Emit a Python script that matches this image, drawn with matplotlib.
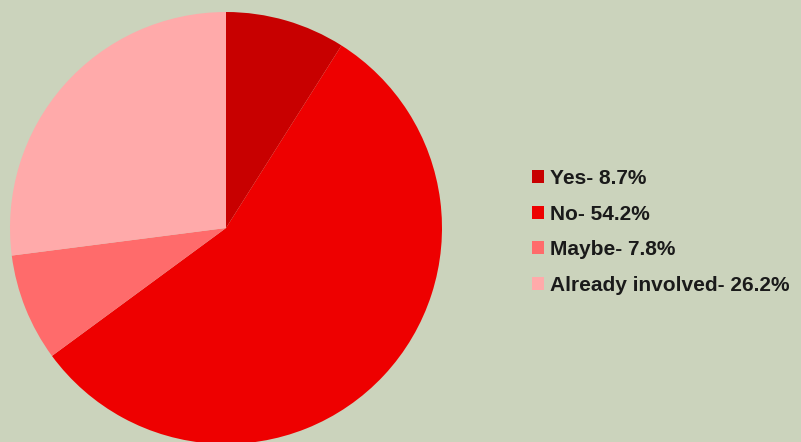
import matplotlib.pyplot as plt
from matplotlib.patches import Patch

# Survey answers
labels = ['Yes', 'No', 'Maybe', 'Already involved']
values = [8.7, 54.2, 7.8, 26.2]
colors = ['#C80000', '#EE0000', '#FF6B6B', '#FFAAAA']
bg = '#CBD3BC'

W, H = 801, 442
fig = plt.figure(figsize=(W / 100, H / 100), dpi=100, facecolor=bg)

# pie axes: centre ~ (226, 228) px from top-left, radius ~ 216 px
cx, cy, r = 226, 228, 216
ax = fig.add_axes([(cx - r) / W, (H - cy - r) / H, 2 * r / W, 2 * r / H])
ax.set_facecolor(bg)
ax.pie(values, colors=colors, startangle=90, counterclock=False,
       radius=1.0, wedgeprops=dict(linewidth=0))
ax.set_xlim(-1, 1)
ax.set_ylim(-1, 1)
ax.set_aspect('equal')
ax.axis('off')

handles = [Patch(facecolor=c, edgecolor='none') for c in colors]
leg_labels = ['%s- %.1f%%' % (l, v) for l, v in zip(labels, values)]
fs = 15
fig.legend(handles, leg_labels, loc='upper left',
           bbox_to_anchor=(532 / W, 1 - 169 / H), frameon=False,
           prop=dict(family='Liberation Sans', size=fs, weight='bold'),
           labelcolor='#1a1a1a',
           handlelength=0.58, handleheight=0.58, handletextpad=0.28,
           labelspacing=0.8, borderaxespad=0, borderpad=0)

fig.savefig('out.png', dpi=100, facecolor=bg)
